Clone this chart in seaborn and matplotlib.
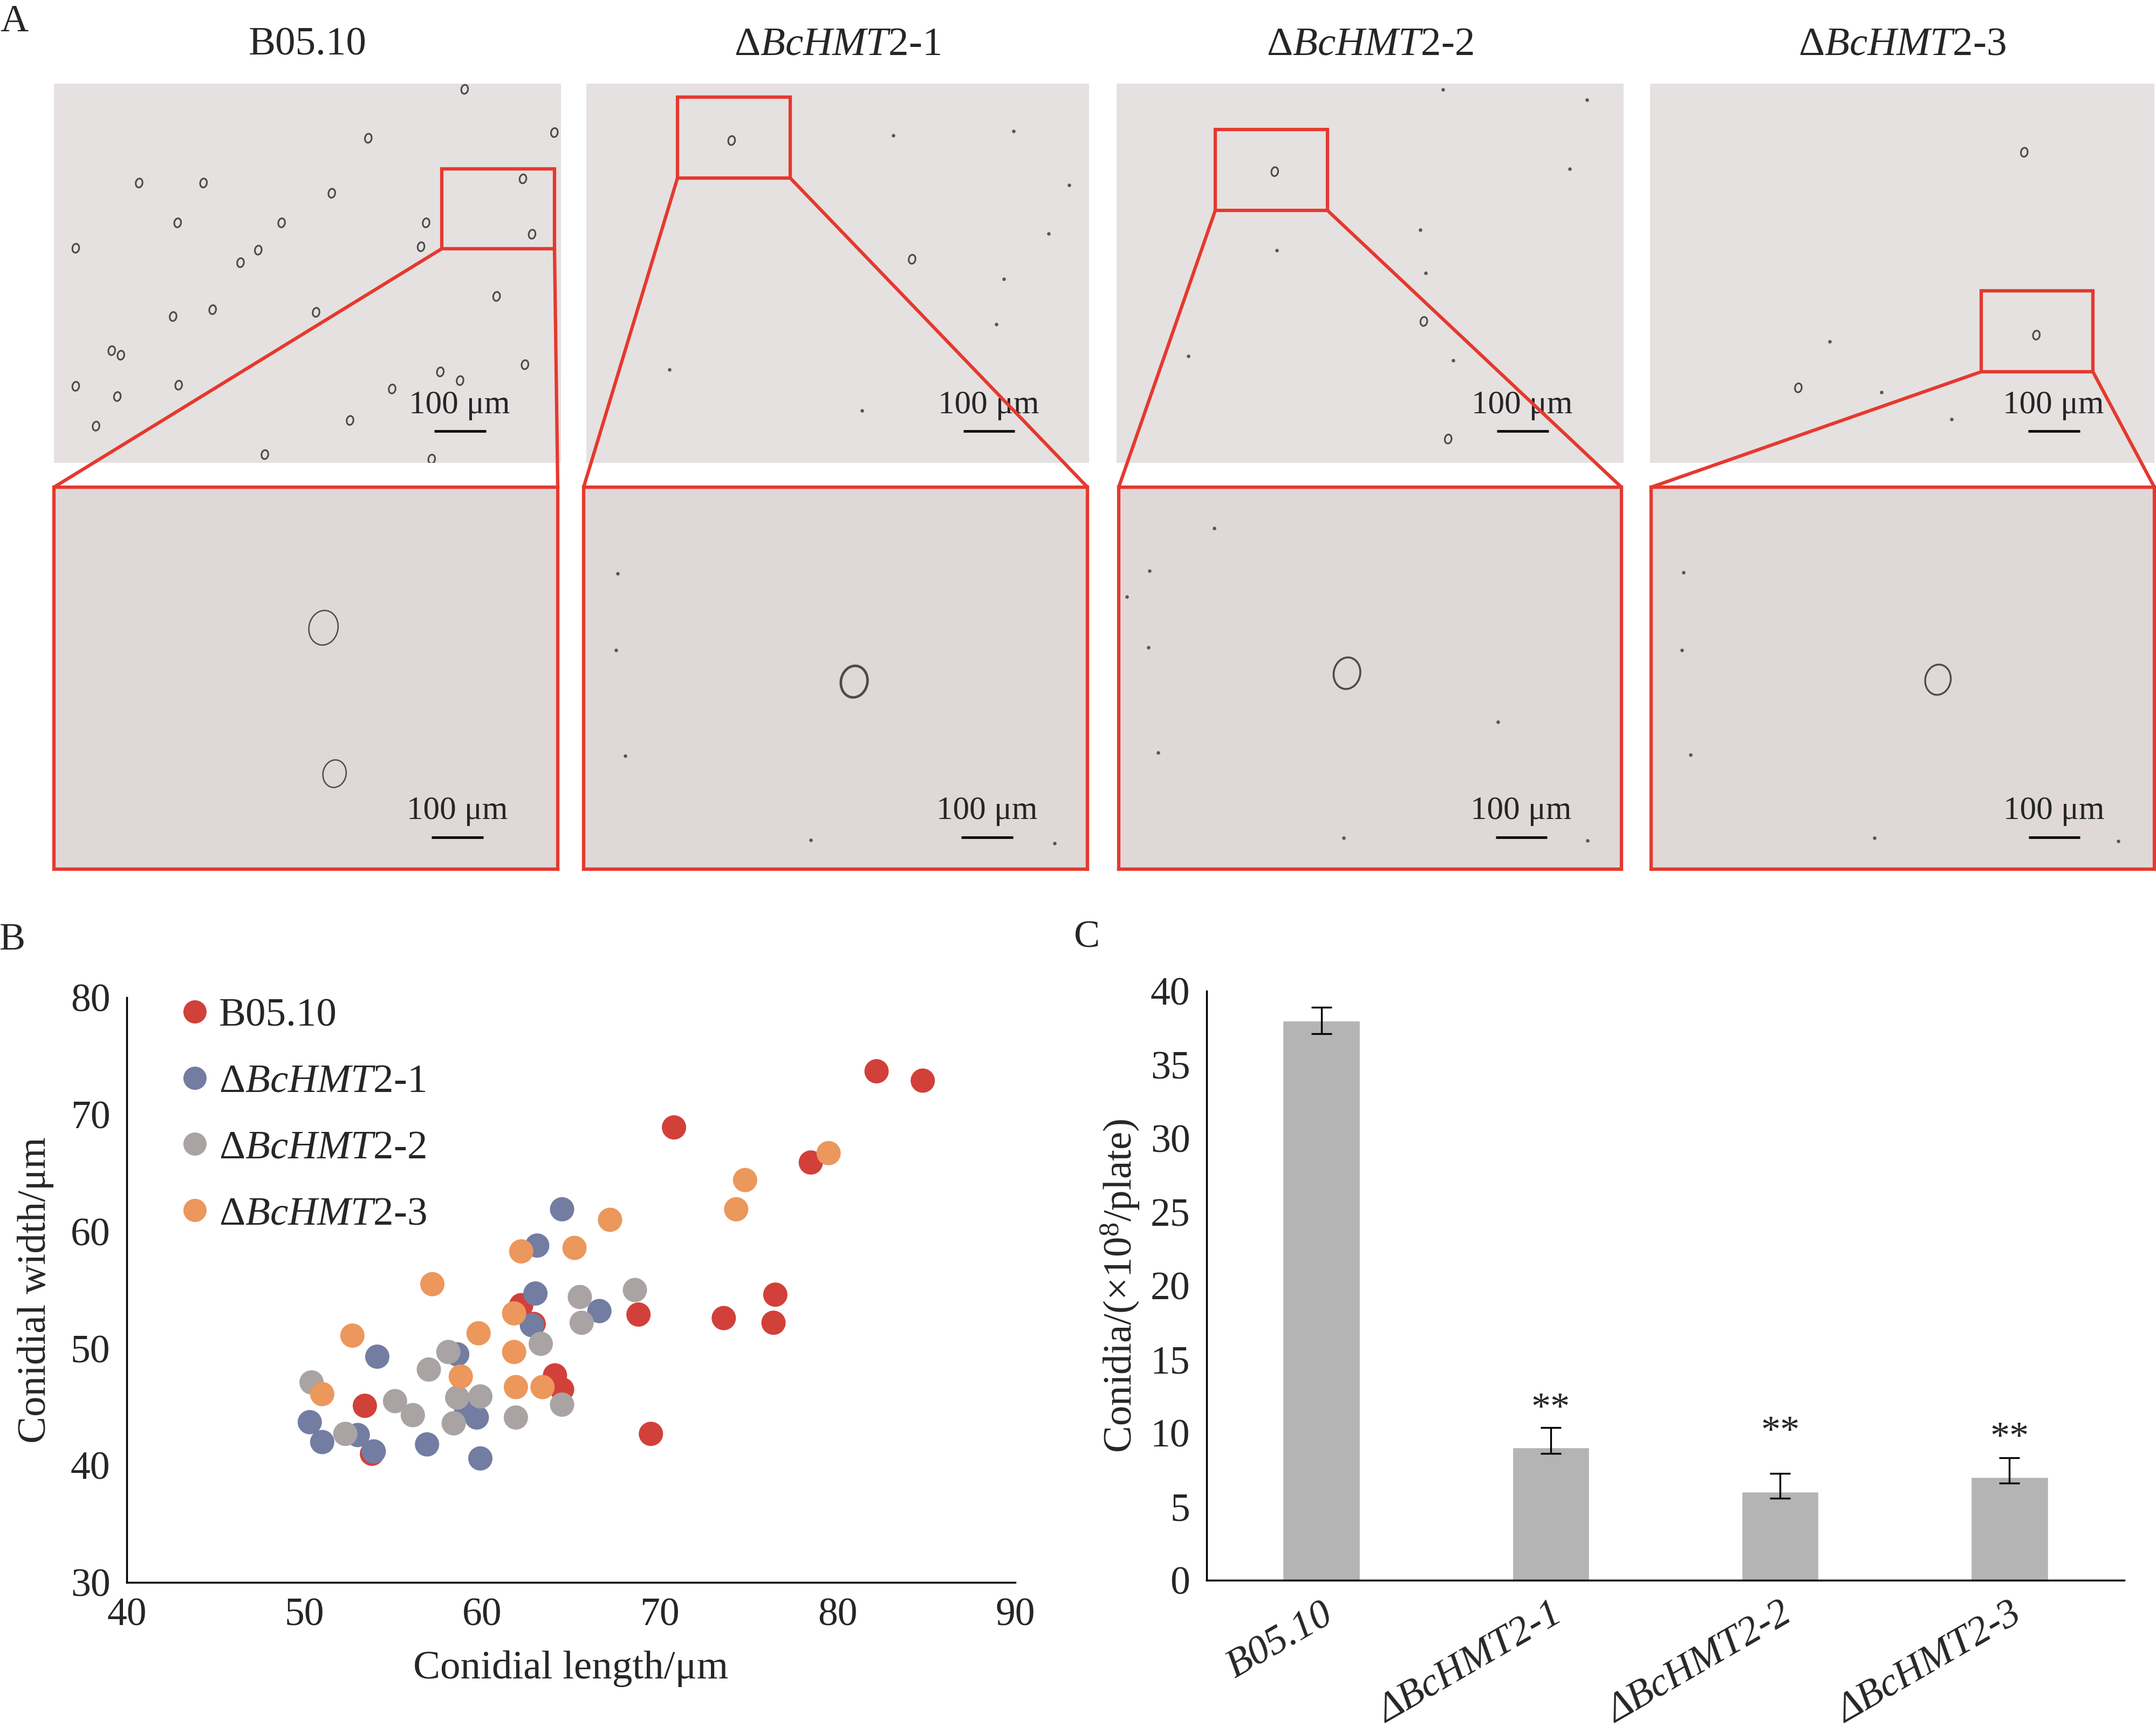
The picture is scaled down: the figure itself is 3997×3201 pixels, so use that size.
import numpy as np
import pandas as pd
import matplotlib
matplotlib.use("Agg")
import matplotlib.pyplot as plt
import seaborn as sns
from matplotlib.lines import Line2D
from matplotlib.markers import MarkerStyle
from matplotlib.transforms import Affine2D
from matplotlib.patches import Rectangle

# ---- data ----
strains = ["B05.10", "ΔBcHMT2-1", "ΔBcHMT2-2", "ΔBcHMT2-3"]
strain_titles = ["B05.10", r"Δ$\mathit{BcHMT2}$-1", r"Δ$\mathit{BcHMT2}$-2", r"Δ$\mathit{BcHMT2}$-3"]
strain_colors = ["#D2403A", "#737DA2", "#A9A3A3", "#EC975C"]

# panel B: conidial length / width (um)
b0510_length = [82.2, 84.8, 70.8, 78.5, 68.8, 73.6, 76.5, 76.4, 69.5, 53.4, 53.8, 62.2, 62.9, 64.1, 64.5]
b0510_width = [73.7, 72.9, 68.9, 65.9, 52.9, 52.6, 54.6, 52.2, 42.7, 45.1, 41.0, 53.7, 52.1, 47.7, 46.5]
hmt1_length = [64.5, 63.1, 63.0, 66.6, 62.8, 54.1, 58.6, 59.7, 59.1, 50.3, 51.0, 53.0, 53.9, 56.9, 59.9]
hmt1_width = [61.9, 58.8, 54.7, 53.2, 52.0, 49.3, 49.5, 44.1, 44.8, 43.7, 42.0, 42.6, 41.2, 41.8, 40.6]
hmt2_length = [68.6, 65.5, 65.6, 63.3, 58.1, 57.0, 50.4, 55.1, 56.1, 58.6, 59.9, 58.4, 61.9, 64.5, 52.3]
hmt2_width = [55.0, 54.4, 52.2, 50.4, 49.7, 48.2, 47.1, 45.5, 44.3, 45.8, 45.9, 43.6, 44.1, 45.2, 42.7]
hmt3_length = [67.2, 62.2, 65.2, 57.2, 61.8, 52.7, 59.8, 61.8, 58.8, 61.9, 63.4, 51.0, 74.3, 74.8, 79.5]
hmt3_width = [61.0, 58.3, 58.6, 55.5, 53.0, 51.1, 51.3, 49.7, 47.6, 46.7, 46.7, 46.1, 61.9, 64.4, 66.7]

# panel C: conidia (x10^8 / plate)
conidia_mean = [38.0, 9.0, 6.0, 7.0]
conidia_err_low = [0.9, 0.4, 0.45, 0.4]
conidia_err_high = [0.9, 1.35, 1.25, 1.3]
star_labels = ["", "**", "**", "**"]
star_y = [0, 11.6, 10.0, 9.6]

# panel A: rough positions of conidia / debris in the micrographs (axes fractions)
conidia_top_b0510 = [(0.81, 0.015), (0.62, 0.144), (0.987, 0.129), (0.168, 0.262), (0.295, 0.262),
                     (0.548, 0.289), (0.925, 0.251), (0.244, 0.367), (0.449, 0.367), (0.734, 0.367),
                     (0.943, 0.397), (0.043, 0.434), (0.724, 0.43), (0.368, 0.472), (0.403, 0.439),
                     (0.873, 0.561), (0.235, 0.614), (0.313, 0.596), (0.517, 0.603), (0.114, 0.704),
                     (0.132, 0.716), (0.929, 0.741), (0.762, 0.76), (0.801, 0.783), (0.043, 0.798),
                     (0.125, 0.825), (0.246, 0.795), (0.667, 0.805), (0.083, 0.903), (0.584, 0.888),
                     (0.416, 0.978), (0.745, 0.99)]
conidia_top_hmt1 = [(0.289, 0.15), (0.648, 0.463)]
conidia_top_hmt2 = [(0.312, 0.232), (0.606, 0.627), (0.654, 0.937)]
conidia_top_hmt3 = [(0.742, 0.181), (0.766, 0.663), (0.294, 0.802)]
specks_top_hmt1 = [(0.61, 0.137), (0.85, 0.125), (0.96, 0.267), (0.83, 0.515), (0.815, 0.635),
                   (0.165, 0.754), (0.548, 0.862), (0.92, 0.395)]
specks_top_hmt2 = [(0.599, 0.386), (0.61, 0.499), (0.316, 0.439), (0.664, 0.73), (0.894, 0.225),
                   (0.928, 0.042), (0.644, 0.015), (0.142, 0.719)]
specks_top_hmt3 = [(0.3564, 0.68), (0.598, 0.885), (0.459, 0.813)]
conidia_bottom_b0510 = [(0.535, 0.368), (0.557, 0.75)]
conidia_bottom_hmt1 = [(0.537, 0.509)]
conidia_bottom_hmt2 = [(0.454, 0.487)]
conidia_bottom_hmt3 = [(0.57, 0.504)]
size_bottom_b0510 = [1500, 950]
size_bottom_hmt1 = [1250]
size_bottom_hmt2 = [1250]
size_bottom_hmt3 = [1150]
specks_bottom_hmt1 = [(0.067, 0.226), (0.064, 0.427), (0.082, 0.704), (0.451, 0.924), (0.935, 0.932)]
specks_bottom_hmt2 = [(0.19, 0.108), (0.061, 0.219), (0.059, 0.42), (0.078, 0.695), (0.754, 0.615),
                      (0.447, 0.918), (0.932, 0.925), (0.016, 0.287)]
specks_bottom_hmt3 = [(0.064, 0.223), (0.061, 0.427), (0.078, 0.7), (0.444, 0.918), (0.928, 0.927)]

# ---- style ----
sns.set_style("white")
plt.rcParams["font.family"] = ["Liberation Serif", "DejaVu Serif"]
plt.rcParams["mathtext.fontset"] = "custom"
plt.rcParams["mathtext.rm"] = "Liberation Serif"
plt.rcParams["mathtext.it"] = "Liberation Serif:italic"
plt.rcParams["mathtext.bf"] = "Liberation Serif:bold"

W, H = 3998, 3201
fig = plt.figure(figsize=(W / 100, H / 100), dpi=100)
fig.patch.set_facecolor("white")


def px_rect(x0, y0, x1, y1):
    return [x0 / W, 1 - y1 / H, (x1 - x0) / W, (y1 - y0) / H]


RED = "#E5392F"
small_marker = MarkerStyle("o", transform=Affine2D().scale(1.0, 1.35).rotate_deg(-10))
big_marker = MarkerStyle("o", transform=Affine2D().scale(1.0, 1.2).rotate_deg(-12))

# ---- panel A ----
top_rects = [(100, 155, 1040, 858), (1087, 155, 2019, 858), (2070, 155, 3010, 858), (3059, 155, 3994, 858)]
bottom_rects = [(100, 903, 1034, 1611), (1082, 903, 2016, 1611), (2074, 903, 3006, 1611), (3061, 903, 3994, 1611)]
zoom_boxes = [(819, 313, 1028, 461), (1256, 180, 1465, 330), (2253, 240, 2461, 390), (3673, 539, 3880, 689)]
top_conidia = [conidia_top_b0510, conidia_top_hmt1, conidia_top_hmt2, conidia_top_hmt3]
top_specks = [[], specks_top_hmt1, specks_top_hmt2, specks_top_hmt3]
bottom_conidia = [conidia_bottom_b0510, conidia_bottom_hmt1, conidia_bottom_hmt2, conidia_bottom_hmt3]
bottom_sizes = [size_bottom_b0510, size_bottom_hmt1, size_bottom_hmt2, size_bottom_hmt3]
bottom_specks = [[], specks_bottom_hmt1, specks_bottom_hmt2, specks_bottom_hmt3]
bottom_lw = [1.8, 3.4, 2.6, 2.4]


def micrograph(rect, bg, conidia, specks, size, marker, lw, border):
    ax = fig.add_axes(px_rect(*rect))
    ax.set_facecolor(bg)
    ax.set_xlim(0, 1)
    ax.set_ylim(1, 0)
    ax.set_xticks([])
    ax.set_yticks([])
    for sp in ax.spines.values():
        sp.set_visible(border)
        sp.set_color(RED)
        sp.set_linewidth(4.5)
    if conidia:
        cx, cy = zip(*conidia)
        ax.scatter(cx, cy, s=size, marker=marker, facecolors="none",
                   edgecolors="#4f4949", linewidths=lw, zorder=3)
    if specks:
        sx, sy = zip(*specks)
        ax.scatter(sx, sy, s=22, color="#5a5454", linewidths=0, zorder=3)
    ax.text(0.80, 0.848, "100 μm", ha="center", va="center", fontsize=44)
    ax.plot([0.75, 0.852], [0.916, 0.916], color="black", lw=3.4, solid_capstyle="butt")
    return ax


for i in range(4):
    micrograph(top_rects[i], "#E5E1E0", top_conidia[i], top_specks[i], 80, small_marker, 2.2, False)
    micrograph(bottom_rects[i], "#DFD8D7", bottom_conidia[i], bottom_specks[i],
               bottom_sizes[i], big_marker, bottom_lw[i], True)
    cx = (top_rects[i][0] + top_rects[i][2]) / 2
    fig.text(cx / W, 1 - 84 / H, strain_titles[i], ha="center", va="center", fontsize=54)

# red zoom boxes and the lines joining them to the enlarged views
ov = fig.add_axes([0, 0, 1, 1])
ov.set_xlim(0, W)
ov.set_ylim(H, 0)
ov.axis("off")
ov.patch.set_alpha(0)
for i in range(4):
    x0, y0, x1, y1 = zoom_boxes[i]
    ov.add_patch(Rectangle((x0, y0), x1 - x0, y1 - y0, fill=False, edgecolor=RED, lw=4.5))
    bx0, by0, bx1, by1 = bottom_rects[i]
    ov.plot([x0, bx0], [y1, by0], color=RED, lw=4.5)
    ov.plot([x1, bx1], [y1, by0], color=RED, lw=4.5)

# ---- panel B: scatter ----
df = pd.concat([
    pd.DataFrame({"length": b0510_length, "width": b0510_width, "strain": strains[0]}),
    pd.DataFrame({"length": hmt1_length, "width": hmt1_width, "strain": strains[1]}),
    pd.DataFrame({"length": hmt2_length, "width": hmt2_width, "strain": strains[2]}),
    pd.DataFrame({"length": hmt3_length, "width": hmt3_width, "strain": strains[3]}),
], ignore_index=True)

axb = fig.add_axes(px_rect(235, 1849, 1882, 2933))
sns.scatterplot(data=df, x="length", y="width", hue="strain", hue_order=strains,
                palette=strain_colors, s=1050, linewidth=0, legend=False, ax=axb, zorder=3)
axb.set_xlim(40, 90)
axb.set_ylim(30, 80)
axb.set_xticks(range(40, 91, 10))
axb.set_yticks(range(30, 81, 10))
axb.set_xlabel("Conidial length/μm", fontsize=54, labelpad=22)
axb.set_ylabel("Conidial width/μm", fontsize=54, labelpad=22)
axb.tick_params(axis="x", direction="in", length=17, width=2.5, labelsize=53, pad=20)
axb.tick_params(axis="y", direction="out", length=18, width=2.5, labelsize=53, pad=4)
for side in ["top", "right"]:
    axb.spines[side].set_visible(False)
for side in ["left", "bottom"]:
    axb.spines[side].set_linewidth(2.5)
    axb.spines[side].set_color("black")

handles = [Line2D([], [], marker="o", ls="", color=c, markersize=31, markeredgewidth=0)
           for c in strain_colors]
axb.legend(handles, strain_titles, loc="upper left", bbox_to_anchor=(0.063, 1.0),
           frameon=False, fontsize=54, handlelength=0.6, handletextpad=0.3,
           labelspacing=0.72, borderpad=0, borderaxespad=0)

# ---- panel C: bars ----
axc = fig.add_axes(px_rect(2237, 1837, 3938, 2929))
sns.barplot(x=strains, y=conidia_mean, color="#B4B4B4", width=0.335, saturation=1,
            errorbar=None, ax=axc, zorder=2)
axc.errorbar(x=np.arange(len(strains)), y=conidia_mean, yerr=[conidia_err_low, conidia_err_high],
             fmt="none", ecolor="black", elinewidth=2.4, capsize=14, capthick=2.4, zorder=3)
for i, lab in enumerate(star_labels):
    if lab:
        axc.text(i, star_y[i], lab, ha="center", va="center", fontsize=52)
axc.set_xlim(-0.5, 3.5)
axc.set_ylim(0, 40)
axc.set_yticks(range(0, 41, 5))
axc.set_xticks(range(len(strains)))
axc.set_xticklabels(strains, rotation=30, ha="right", rotation_mode="anchor",
                    fontstyle="italic", fontsize=54)
axc.set_xticks(np.arange(0.5, 3.6, 1.0), minor=True)
axc.tick_params(axis="x", which="major", length=0, pad=22)
axc.tick_params(axis="x", which="minor", direction="in", length=18, width=2.5)
axc.tick_params(axis="y", direction="out", length=18, width=2.5, labelsize=53, pad=4)
axc.set_ylabel("Conidia/(×10$^{8}$/plate)", fontsize=54, labelpad=12)
axc.set_xlabel("")
for side in ["top", "right"]:
    axc.spines[side].set_visible(False)
for side in ["left", "bottom"]:
    axc.spines[side].set_linewidth(2.5)
    axc.spines[side].set_color("black")

# panel letters
fig.text(26 / W, 1 - 40 / H, "A", ha="center", va="center", fontsize=52)
fig.text(23 / W, 1 - 1742 / H, "B", ha="center", va="center", fontsize=52)
fig.text(2015 / W, 1 - 1738 / H, "C", ha="center", va="center", fontsize=52)

fig.savefig("out.png", dpi=100, facecolor="white")
